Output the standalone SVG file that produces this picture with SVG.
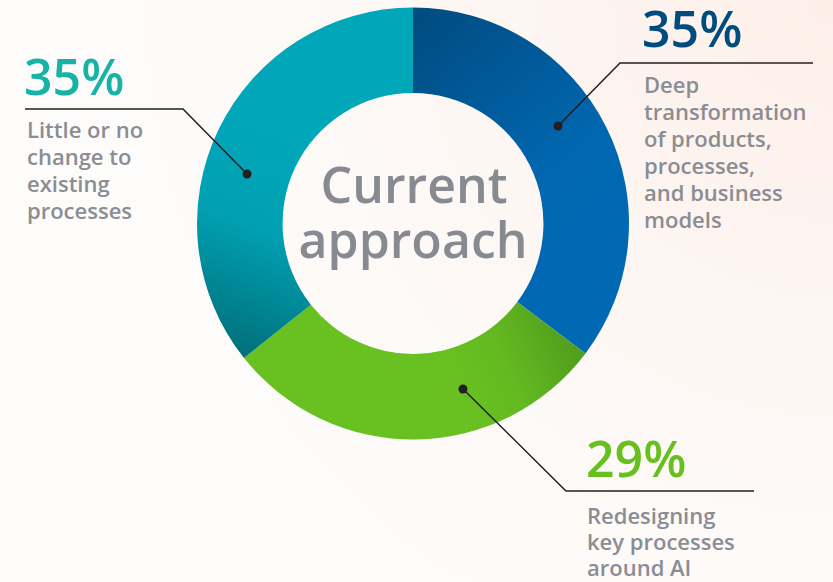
<svg xmlns="http://www.w3.org/2000/svg" width="833" height="582" viewBox="0 0 833 582">
<defs>
<radialGradient id="bg" cx="833" cy="0" r="700" gradientUnits="userSpaceOnUse">
<stop offset="0" stop-color="#fdefe8"/>
<stop offset="0.6" stop-color="#fdf8f5"/>
<stop offset="1" stop-color="#fdfcfb"/>
</radialGradient>
<linearGradient id="gBlue" x1="413" y1="10" x2="620" y2="260" gradientUnits="userSpaceOnUse">
<stop offset="0" stop-color="#004b7f"/>
<stop offset="0.65" stop-color="#0067b0"/>
<stop offset="1" stop-color="#0069b4"/>
</linearGradient>
<linearGradient id="gTeal" x1="330" y1="150" x2="250" y2="355" gradientUnits="userSpaceOnUse">
<stop offset="0" stop-color="#00a7b9"/>
<stop offset="0.45" stop-color="#00a0b2"/>
<stop offset="1" stop-color="#00727c"/>
</linearGradient>
<linearGradient id="gGreen" x1="460" y1="400" x2="590" y2="340" gradientUnits="userSpaceOnUse">
<stop offset="0" stop-color="#68c121"/>
<stop offset="0.4" stop-color="#63b920"/>
<stop offset="1" stop-color="#4e981d"/>
</linearGradient>
<style>
.pct{font-family:"Open Sans","Liberation Sans",sans-serif;font-size:50px;font-weight:600}
.lbl{font-family:"Open Sans","Liberation Sans",sans-serif;font-size:22px;font-weight:600;fill:#8a8d93}
.ctr{font-family:"Open Sans","Liberation Sans",sans-serif;font-size:50px;font-weight:600;fill:#878a91;text-anchor:middle}
.ln{fill:none;stroke:#231f20;stroke-width:1.5}
.dot{fill:#231f20}
</style>
</defs>
<rect width="833" height="582" fill="url(#bg)"/>
<g id="donut">
<g id="seg-blue"><path d="M413,7.5 A216,216 0 0 1 585.5,353.5 L517.2,302 A130.5,130.5 0 0 0 413,93 Z" fill="url(#gBlue)"/></g>
<g id="seg-green"><path d="M585.5,353.5 A216,216 0 0 1 244,358 L310.9,304.7 A130.5,130.5 0 0 0 517.2,302 Z" fill="url(#gGreen)"/></g>
<g id="seg-teal"><path d="M244,358 A216,216 0 0 1 413,7.5 L413,93 A130.5,130.5 0 0 0 310.9,304.7 Z" fill="url(#gTeal)"/></g>
</g>
<g id="center-label">
<text class="ctr" x="414" y="203">Current</text>
<text class="ctr" x="413" y="258">approach</text>
</g>
<g id="connectors">
<polyline class="ln" points="25,109 183,109 247,174"/>
<polyline class="ln" points="813,63 620,63 558,126"/>
<polyline class="ln" points="463,389 566,491 754,491"/>
<circle class="dot" cx="247" cy="174" r="4.5"/>
<circle class="dot" cx="558" cy="126" r="4.5"/>
<circle class="dot" cx="463" cy="389" r="4.5"/>
</g>
<g id="label-teal">
<text class="pct" x="24" y="95" fill="#16b3a6">35%</text>
<text class="lbl" x="27"><tspan x="27" y="138">Little or no</tspan><tspan x="27" y="165">change to</tspan><tspan x="27" y="192">existing</tspan><tspan x="27" y="219">processes</tspan></text>
</g>
<g id="label-blue">
<text class="pct" x="642" y="47" fill="#004b7f">35%</text>
<text class="lbl" x="644"><tspan x="644" y="93">Deep</tspan><tspan x="644" y="120">transformation</tspan><tspan x="644" y="147">of products,</tspan><tspan x="644" y="174">processes,</tspan><tspan x="644" y="201">and business</tspan><tspan x="644" y="228">models</tspan></text>
</g>
<g id="label-green">
<text class="pct" x="586" y="477" fill="#67c01e">29%</text>
<text class="lbl" x="587"><tspan x="587" y="524">Redesigning</tspan><tspan x="587" y="550">key processes</tspan><tspan x="587" y="576">around AI</tspan></text>
</g>
</svg>
